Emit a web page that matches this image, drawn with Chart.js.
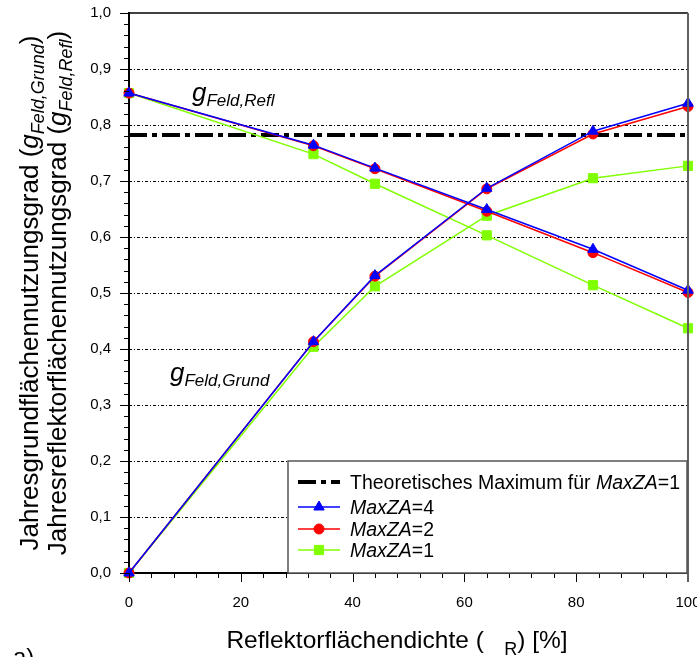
<!DOCTYPE html>
<html>
<head>
<meta charset="utf-8">
<script src="https://cdn.jsdelivr.net/npm/chart.js@4.4.0/dist/chart.umd.min.js"></script>
<style>
html, body { margin: 0; padding: 0; background: #fff; overflow: hidden; }
#wrap { width: 697px; height: 657px; overflow: hidden; }
</style>
</head>
<body>
<div id="wrap"><canvas id="c" width="720" height="657"></canvas></div>
<script>
// Reflektorflächendichte [%]
var dichte = [0, 33, 44, 64, 83, 100];

// MaxZA=4
var grund4 = [0, 0.413, 0.531, 0.687, 0.789, 0.839];
var refl4  = [0.857, 0.764, 0.723, 0.649, 0.578, 0.505];
// MaxZA=2
var grund2 = [0, 0.413, 0.530, 0.686, 0.784, 0.833];
var refl2  = [0.857, 0.763, 0.722, 0.646, 0.572, 0.501];
// MaxZA=1
var grund1 = [0, 0.404, 0.512, 0.638, 0.705, 0.727];
var refl1  = [0.857, 0.748, 0.695, 0.603, 0.514, 0.437];

var theoMax = 0.782;
var xRange = [0, 100];

var FONT = '"Liberation Sans", Arial, sans-serif';
var BLUE = '#0000ff', RED = '#ff0000', GREEN = '#80ff00';
var DASHDOT = [18, 5, 5, 5];

function serie(label, values, color, style, radius) {
  return {
    label: label,
    data: dichte.map(function (d, i) { return { x: d, y: values[i] }; }),
    borderColor: color,
    backgroundColor: color,
    pointStyle: style,
    pointRadius: radius,
    pointBorderWidth: 1,
    borderWidth: 1.5,
    tension: 0,
    fill: false,
    clip: false
  };
}

// draws text pieces one after another, each with its own font and baseline shift
function rich(ctx, parts, x, y, align) {
  var w = 0;
  parts.forEach(function (p) { ctx.font = p.f; p.w = ctx.measureText(p.t).width; w += p.w; });
  var cx = align === 'center' ? x - w / 2 : x;
  parts.forEach(function (p) {
    ctx.font = p.f;
    ctx.fillText(p.t, cx, y + (p.dy || 0));
    cx += p.w;
  });
}

function line(ctx, x1, y1, x2, y2) {
  ctx.beginPath(); ctx.moveTo(x1, y1); ctx.lineTo(x2, y2); ctx.stroke();
}

var gridPlugin = {
  id: 'gridAndTicks',
  beforeDatasetsDraw: function (chart) {
    var ctx = chart.ctx, a = chart.chartArea, ys = chart.scales.y;
    ctx.save();
    ctx.strokeStyle = '#000';
    ctx.lineWidth = 1;
    ctx.setLineDash([3, 2, 1, 2]);
    for (var i = 1; i < 10; i++) {
      var py = Math.round(ys.getPixelForValue(i / 10)) + 0.5;
      line(ctx, a.left, py, a.right, py);
    }
    ctx.restore();
  },
  afterDraw: function (chart) {
    var ctx = chart.ctx, a = chart.chartArea, ys = chart.scales.y, xs = chart.scales.x;
    ctx.save();
    ctx.strokeStyle = '#000';
    ctx.lineWidth = 1;
    // ticks, major and minor
    for (var i = 0; i <= 50; i++) {
      var py = Math.round(ys.getPixelForValue(i * 0.02)) + 0.5;
      line(ctx, a.left - (i % 5 === 0 ? 9 : 5), py, a.left, py);
    }
    for (var j = 0; j <= 25; j++) {
      var px = Math.round(xs.getPixelForValue(j * 4)) + 0.5;
      line(ctx, px, a.bottom, px, a.bottom + (j % 5 === 0 ? 9 : 5));
    }
    // frame top and right
    ctx.lineWidth = 1.5;
    line(ctx, a.left, a.top, a.right, a.top);
    ctx.strokeStyle = '#606060';
    ctx.lineWidth = 2;
    line(ctx, a.right, a.top, a.right, a.bottom + 9);

    // legend
    var lx = 288, ly = 461, lw = 399, lh = a.bottom - 461;
    ctx.fillStyle = '#fff';
    ctx.fillRect(lx, ly, lw, lh);
    ctx.strokeStyle = '#555';
    ctx.lineWidth = 1.5;
    ctx.strokeRect(lx, ly, lw, lh);

    var nf = '19.5px ' + FONT, itf = 'italic 19.5px ' + FONT;
    var rows = [
      { y: 482, color: '#000', dash: DASHDOT, width: 4, style: null,
        text: [{ t: 'Theoretisches Maximum für ', f: nf }, { t: 'MaxZA', f: itf }, { t: '=1', f: nf }] },
      { y: 507, color: BLUE, style: 'triangle', r: 6, text: [{ t: 'MaxZA', f: itf }, { t: '=4', f: nf }] },
      { y: 529, color: RED, style: 'circle', r: 5, text: [{ t: 'MaxZA', f: itf }, { t: '=2', f: nf }] },
      { y: 550, color: GREEN, style: 'rect', r: 6.5, text: [{ t: 'MaxZA', f: itf }, { t: '=1', f: nf }] }
    ];
    rows.forEach(function (r) {
      ctx.save();
      ctx.strokeStyle = r.color;
      ctx.lineWidth = r.width || 1.5;
      ctx.setLineDash(r.dash || []);
      line(ctx, 298, r.y, 340, r.y);
      ctx.restore();
      if (r.style) {
        ctx.fillStyle = r.color;
        ctx.strokeStyle = r.color;
        ctx.lineWidth = 1;
        Chart.helpers.drawPoint(ctx, { pointStyle: r.style, radius: r.r, borderWidth: 1, rotation: 0 }, 319, r.y);
      }
      ctx.fillStyle = '#000';
      ctx.textBaseline = 'alphabetic';
      ctx.textAlign = 'left';
      rich(ctx, r.text, 350, r.y + 7, 'left');
    });

    ctx.fillStyle = '#000';
    ctx.textBaseline = 'alphabetic';
    ctx.textAlign = 'left';

    // curve labels
    rich(ctx, [{ t: 'g', f: 'italic 26px ' + FONT }, { t: 'Feld,Refl', f: 'italic 17px ' + FONT, dy: 5 }], 192, 101, 'left');
    rich(ctx, [{ t: 'g', f: 'italic 26px ' + FONT }, { t: 'Feld,Grund', f: 'italic 17px ' + FONT, dy: 5 }], 170, 381, 'left');

    // x axis title
    rich(ctx, [
      { t: 'Reflektorflächendichte (', f: '24.5px ' + FONT },
      { t: '   ', f: '24.5px ' + FONT },
      { t: 'R', f: '18px ' + FONT, dy: 7 },
      { t: ') [%]', f: '24.5px ' + FONT }
    ], 397, 648, 'center');

    // y axis title, two lines
    var cy = (a.top + a.bottom) / 2;
    [
      { x: 38, base: 'Jahresgrundflächennutzungsgrad (', sub: 'Feld,Grund' },
      { x: 66, base: 'Jahresreflektorflächennutzungsgrad (', sub: 'Feld,Refl' }
    ].forEach(function (l) {
      ctx.save();
      ctx.translate(l.x, cy);
      ctx.rotate(-Math.PI / 2);
      rich(ctx, [
        { t: l.base, f: '26px ' + FONT },
        { t: 'g', f: 'italic 26px ' + FONT },
        { t: l.sub, f: 'italic 18px ' + FONT, dy: 6 },
        { t: ')', f: '26px ' + FONT }
      ], 0, 0, 'center');
      ctx.restore();
    });

    ctx.font = '24px ' + FONT;
    ctx.fillText('a)', 13, 665);
    ctx.restore();
  }
};

new Chart(document.getElementById('c').getContext('2d'), {
  type: 'line',
  data: {
    datasets: [
      serie('MaxZA=4 Refl', refl4, BLUE, 'triangle', 6),
      serie('MaxZA=4 Grund', grund4, BLUE, 'triangle', 6),
      serie('MaxZA=2 Refl', refl2, RED, 'circle', 5),
      serie('MaxZA=2 Grund', grund2, RED, 'circle', 5),
      serie('MaxZA=1 Refl', refl1, GREEN, 'rect', 6.5),
      serie('MaxZA=1 Grund', grund1, GREEN, 'rect', 6.5),
      {
        label: 'Theoretisches Maximum für MaxZA=1',
        data: xRange.map(function (x) { return { x: x, y: theoMax }; }),
        borderColor: '#000',
        borderWidth: 4,
        borderDash: DASHDOT,
        pointRadius: 0,
        fill: false
      }
    ]
  },
  options: {
    responsive: false,
    animation: false,
    devicePixelRatio: 1,
    layout: { padding: { top: 13, right: 32, left: 0, bottom: 0 } },
    plugins: { legend: { display: false }, tooltip: { enabled: false } },
    scales: {
      x: {
        type: 'linear',
        min: 0, max: 100,
        grid: { display: false, drawTicks: true, tickLength: 21 },
        border: { display: true, color: '#000', width: 2 },
        ticks: { stepSize: 20, padding: 0, color: '#000', font: { family: FONT, size: 15 }, maxRotation: 0 },
        afterFit: function (s) { s.height = 84; }
      },
      y: {
        min: 0, max: 1,
        grid: { display: false, drawTicks: true, tickLength: 18 },
        border: { display: true, color: '#000', width: 2 },
        ticks: {
          stepSize: 0.1, padding: 0, color: '#000', font: { family: FONT, size: 15 },
          callback: function (v) { return v.toFixed(1).replace('.', ','); }
        },
        afterFit: function (s) { s.width = 129; }
      }
    }
  },
  plugins: [gridPlugin]
});
</script>
</body>
</html>
